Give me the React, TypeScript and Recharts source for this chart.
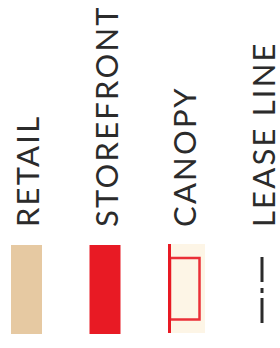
import React from 'react';
import { Bar, BarChart, LabelList, XAxis, YAxis } from 'recharts';

// legend entries, one swatch each
const categories = ['RETAIL', 'STOREFRONT', 'CANOPY', 'LEASE LINE'];
const swatchValues = [1, 1, 1, 1];

const TAN = '#e6c9a2';
const RED = '#e81a24';
const CREAM = '#fdf5e6';
const INK = '#2b2b2b';

const data = categories.map((name, i) => ({ name, value: swatchValues[i] }));

const SwatchShape = (props: any) => {
    const { x, y, width, height, index } = props;
    if (index === 0) {
        return <rect x={x} y={y} width={width} height={height} fill={TAN} />;
    }
    if (index === 1) {
        return <rect x={x} y={y} width={width} height={height} fill={RED} />;
    }
    if (index === 2) {
        return (
            <g>
                <rect x={x} y={y - 1} width={width + 6} height={height} fill={CREAM} />
                <rect x={x} y={y - 1} width={3} height={height} fill={RED} />
                <rect x={x + 2} y={y + 13} width={width - 1.5} height={61.5}
                      fill="none" stroke={RED} strokeOpacity={0.9} strokeWidth={2.5} />
            </g>
        );
    }
    const cx = x + width / 2;
    return (
        <line x1={cx} x2={cx} y1={y + 12} y2={y + 78} stroke={INK} strokeWidth={3}
              strokeDasharray="25 6 5 5 25 100" />
    );
};

const RotatedLabel = (props: any) => {
    const { x, y, width, value } = props;
    const bx = x + width / 2 + 12.5;
    const by = y - 18;
    return (
        <text x={bx} y={by} transform={`rotate(-90 ${bx} ${by})`} textAnchor="start"
              fill={INK} fontFamily="Lato, 'Open Sans', sans-serif" fontSize={31}
              letterSpacing={2.2}>
            {value}
        </text>
    );
};

const App = () => {
    return (
        <div style={{ position: 'absolute', left: 0, top: 0, width: 280, height: 348, overflow: 'hidden', background: '#fff' }}>
            <div style={{ position: 'absolute', left: -13, top: 0 }}>
                <BarChart width={314} height={348} data={data}
                          margin={{ top: 245, right: 0, bottom: 14, left: 0 }}>
                    <XAxis dataKey="name" hide />
                    <YAxis hide domain={[0, 1]} />
                    <Bar dataKey="value" barSize={31} isAnimationActive={false} shape={SwatchShape}>
                        <LabelList dataKey="name" content={RotatedLabel} />
                    </Bar>
                </BarChart>
            </div>
        </div>
    );
};

export default App;
